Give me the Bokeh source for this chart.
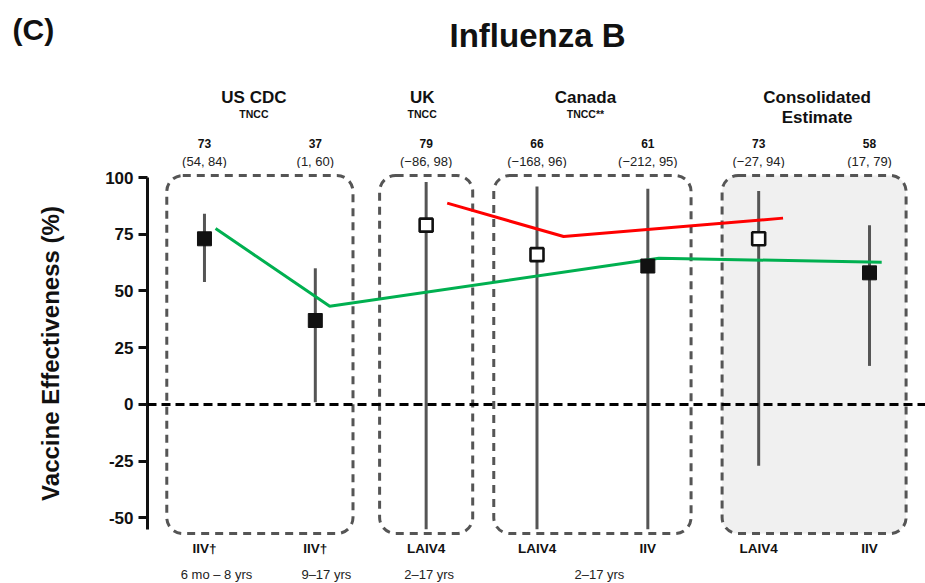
import numpy as np
from bokeh.plotting import figure
from bokeh.layouts import column
from bokeh.models import FixedTicker, Span, BoxAnnotation, Range1d, Plot
from bokeh.core.properties import value
from bokeh.embed import file_html
from bokeh.resources import INLINE

# ---------------- data ----------------
group_names = ["US CDC", "UK", "Canada", "Consolidated"]
group_subs = ["TNCC", "TNCC", "TNCC**", "Estimate"]
group_members = [[0, 1], [2], [3, 4], [5, 6]]
vaccines = ["IIV\u2020", "IIV\u2020", "LAIV4", "LAIV4", "IIV", "LAIV4", "IIV"]
ve = [73, 37, 79, 66, 61, 73, 58]
ci_low = [54, 1, -86, -168, -212, -27, 17]
ci_high = [84, 60, 98, 96, 95, 94, 79]
is_laiv = [False, False, True, True, False, True, False]
age_labels = ["6 mo \u2013 8 yrs", "9\u201317 yrs", "2\u201317 yrs", "2\u201317 yrs"]
age_members = [[0], [1], [2], [3, 4]]
green_x = [1.10, 2.13, 5.10, 7.11]
green_y = [77.5, 43.3, 64.4, 62.7]
red_x = [3.19, 4.24, 6.22]
red_y = [88.7, 74.0, 82.1]
y_ticks = [-50, -25, 0, 25, 50, 75, 100]
y_tick_text = {-50: "-50", -25: "-25", 0: "0", 25: "25", 50: "50", 75: "75", 100: "100"}

# ---------------- layout / style ----------------
FONT = "Liberation Sans"
W = 925
PX_X = 110.84          # pixels per category step
PX_Y = 2.27            # pixels per VE percent
FRAME_L = 147
X_START = 0.486
X_END = X_START + (W - FRAME_L) / PX_X
Y_START, Y_END = -58.15, 103.08
AXIS_FLOOR = -55
TOP_H, MAIN_H, BOT_H = 168, 370, 45
GROUP_SHIFT_PX = [-6, -4, -7, 3]
AGE_SHIFT_PX = [12, 11, 3, 7]
FA = {"frame_align": False} if "frame_align" in Plot.properties() else {}

def x_at(px):
    return 1 + (px - 204) / PX_X

def y_at(py):
    return 100 - (py - 177) / PX_Y

xs = np.arange(1, len(ve) + 1)


def bare(h, y0, y1):
    f = figure(width=W, height=h, output_backend="svg", toolbar_location=None,
               x_range=Range1d(x_at(0), x_at(W)), y_range=Range1d(y0, y1),
               min_border=0, **FA)
    f.outline_line_color = None
    f.grid.visible = False
    f.axis.visible = False
    return f


def txt(f, x, y, text, size, bold=True, align="center", color="#111111"):
    f.text(x=[x], y=[y], text=[text], text_font=value(FONT),
           text_font_size=value(size),
           text_font_style="bold" if bold else "normal",
           text_align=align, text_baseline="middle", text_color=color)


# ---------------- header ----------------
top = bare(TOP_H, y_at(TOP_H), y_at(0))
txt(top, x_at(12), y_at(29), "(C)", "30px", align="left")
txt(top, x_at(537), y_at(35), "Influenza B", "33px")
for name, sub, members, sh in zip(group_names, group_subs, group_members, GROUP_SHIFT_PX):
    cx = float(np.mean(xs[members])) + sh / PX_X
    txt(top, cx, y_at(97), name, "17px")
    if sub == "Estimate":
        txt(top, cx, y_at(117), sub, "17px")
    else:
        txt(top, cx, y_at(113), sub, "10.5px")
for x, v, lo, hi in zip(xs, ve, ci_low, ci_high):
    txt(top, float(x), y_at(143), f"{v}", "12px")
    lo_s = f"\u2212{abs(lo)}" if lo < 0 else f"{lo}"
    txt(top, float(x), y_at(161), f"({lo_s}, {hi})", "13px", bold=False, color="#222222")

# ---------------- main ----------------
p = figure(width=W, height=MAIN_H, output_backend="svg", toolbar_location=None,
           x_range=Range1d(X_START, X_END), y_range=Range1d(Y_START, Y_END),
           min_border_left=FRAME_L, min_border_right=0, min_border_top=2,
           min_border_bottom=2, **FA)
p.outline_line_color = None
p.grid.visible = False
p.xaxis.visible = False

ax = p.yaxis[0]
ax.ticker = FixedTicker(ticks=y_ticks)
ax.major_label_overrides = y_tick_text
ax.bounds = (AXIS_FLOOR, 100)
ax.axis_line_width = 3
ax.axis_line_color = "#111111"
ax.major_tick_line_width = 3
ax.major_tick_line_color = "#111111"
ax.major_tick_out = 9
ax.major_tick_in = 0
ax.minor_tick_line_color = None
ax.major_label_text_font = FONT
ax.major_label_text_font_style = "bold"
ax.major_label_text_font_size = "17px"
ax.major_label_text_color = "#111111"
ax.major_label_standoff = 5
ax.axis_label = "Vaccine Effectiveness (%)"
ax.axis_label_text_font = FONT
ax.axis_label_text_font_style = "bold"
ax.axis_label_text_font_size = "24px"
ax.axis_label_text_color = "#111111"
ax.axis_label_standoff = 38

box_pad = [0.34, 0.42, 0.39, 0.33]
box_fill = [None, None, None, "#f0f0f0"]
for members, pad, fill in zip(group_members, box_pad, box_fill):
    b = BoxAnnotation(left=xs[members[0]] - pad, right=xs[members[-1]] + pad,
                      top=y_at(175), bottom=y_at(533), border_radius=16,
                      line_color="#555555", line_alpha=1, line_width=3,
                      line_dash="8 6",
                      fill_color=fill if fill else "white",
                      fill_alpha=1 if fill else 0, level="underlay")
    p.add_layout(b)

p.add_layout(Span(location=0, dimension="width", line_color="black",
                  line_width=3, line_dash="9 5"))

low_clip = np.maximum(np.array(ci_low), AXIS_FLOOR)
p.segment(x0=xs, y0=low_clip, x1=xs, y1=ci_high, line_color="#555555", line_width=3)

p.line(green_x, green_y, line_color="#00b050", line_width=3)
p.line(red_x, red_y, line_color="#ff0000", line_width=3)

laiv = np.array(is_laiv)
ve_arr = np.array(ve)
p.scatter(xs[~laiv], ve_arr[~laiv], marker="square", size=14,
          fill_color="#111111", line_color="#111111")
p.scatter(xs[laiv], ve_arr[laiv], marker="square", size=13,
          fill_color="white", line_color="#111111", line_width=2.6)

# ---------------- footer ----------------
y_off = TOP_H + MAIN_H
bot = bare(BOT_H, y_at(y_off + BOT_H), y_at(y_off))
for x, v in zip(xs, vaccines):
    txt(bot, float(x), y_at(548), v, "13.5px")
for a, members, sh in zip(age_labels, age_members, AGE_SHIFT_PX):
    txt(bot, float(np.mean(xs[members])) + sh / PX_X, y_at(574), a, "13px",
        bold=False, color="#222222")

layout = column(top, p, bot, spacing=0)
open("out.html", "w").write(file_html(layout, INLINE))
